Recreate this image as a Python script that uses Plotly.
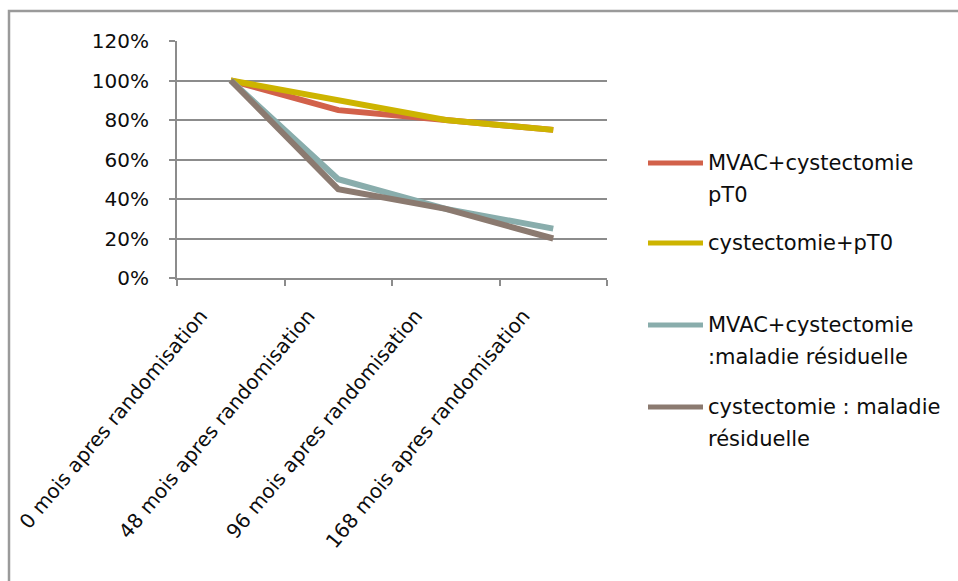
import plotly.graph_objects as go

categories = ["0 mois apres randomisation", "48 mois apres randomisation",
              "96 mois apres randomisation", "168 mois apres randomisation"]
series_names = ["MVAC+cystectomie pT0", "cystectomie+pT0",
                "MVAC+cystectomie :maladie résiduelle", "cystectomie : maladie résiduelle"]
legend_lines = [["MVAC+cystectomie", "pT0"], ["cystectomie+pT0"],
                ["MVAC+cystectomie", ":maladie résiduelle"], ["cystectomie : maladie", "résiduelle"]]
mvac_pt0 = [1.00, 0.85, 0.80, 0.75]
cyst_pt0 = [1.00, 0.90, 0.80, 0.75]
mvac_resid = [1.00, 0.50, 0.35, 0.25]
cyst_resid = [1.00, 0.45, 0.35, 0.20]
colors = ["#D2614A", "#CDB400", "#89ADAC", "#8B7A70"]

W, H = 958, 581
L, R, T, B = 177, 607, 41, 278

fig = go.Figure()
for name, vals, c in zip(series_names, [mvac_pt0, cyst_pt0, mvac_resid, cyst_resid], colors):
    fig.add_trace(go.Scatter(x=categories, y=vals, name=name, mode="lines",
                             line=dict(color=c, width=6), showlegend=False))

font = "DejaVu Sans"
grid = "#8C8C8C"
txt = "#0d0d0d"
fig.update_layout(
    width=W, height=H,
    margin=dict(l=L, r=W - R, t=T, b=H - B, pad=0, autoexpand=False),
    paper_bgcolor="white", plot_bgcolor="white",
    font=dict(family=font, size=20, color=txt),
    showlegend=False,
    xaxis=dict(type="category", range=[-0.5, 3.5], tickangle=-50, automargin=False,
               showline=True, linecolor=grid, linewidth=2,
               ticks="outside", tickson="boundaries", ticklen=6, tickwidth=2, tickcolor=grid,
               ticklabelshift=-30, ticklabelstandoff=16,
               showgrid=False, tickfont=dict(size=20, family=font, color=txt)),
    yaxis=dict(range=[0, 1.2], dtick=0.2, tickformat=".0%", automargin=False,
               showline=True, linecolor=grid, linewidth=2,
               ticks="outside", ticklen=6, tickwidth=2, tickcolor=grid,
               ticklabelstandoff=16,
               showgrid=True, gridcolor=grid, gridwidth=2, zeroline=False,
               tickfont=dict(size=20, family=font, color=txt)),
)

def px_x(p):
    return (p - L) / (R - L)

def px_y(p):
    return (B - p) / (B - T)

# legend drawn manually (swatch + text lines)
legend_y = [163, 243, 325, 407]
line_gap = 32
for lines, c, y0 in zip(legend_lines, colors, legend_y):
    fig.add_shape(type="line", xref="paper", yref="paper",
                  x0=px_x(648), x1=px_x(703), y0=px_y(y0), y1=px_y(y0),
                  line=dict(color=c, width=5))
    for i, s in enumerate(lines):
        fig.add_annotation(xref="paper", yref="paper", x=px_x(706), y=px_y(y0 + i * line_gap),
                           text=s, showarrow=False, xanchor="left", yanchor="middle",
                           font=dict(size=21, family=font, color=txt))

# outer chart border
fig.add_shape(type="rect", xref="paper", yref="paper",
              x0=px_x(9), x1=px_x(1000), y0=px_y(700), y1=px_y(11),
              line=dict(color="#9A9A9A", width=2.5), fillcolor="rgba(0,0,0,0)", layer="below")

fig.write_html("out.html")
